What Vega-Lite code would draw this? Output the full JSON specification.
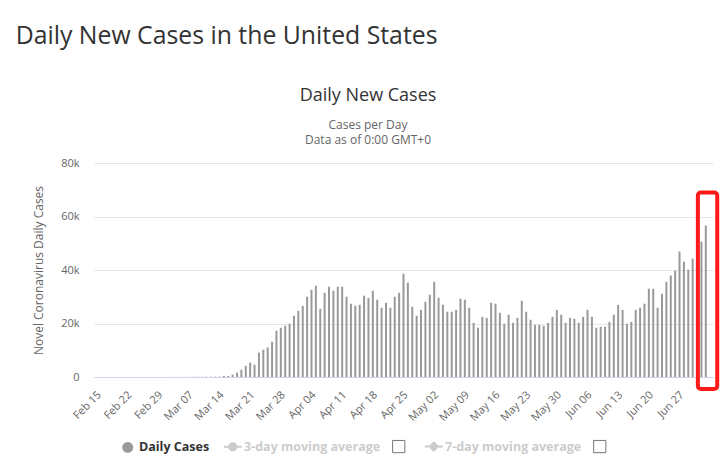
{
  "$schema": "https://vega.github.io/schema/vega-lite/v6.json",
  "background": "white",
  "padding": {"left": 15, "top": 24, "right": 5, "bottom": 5},
  "config": {"font": "Open Sans", "view": {"stroke": null}, "axis": {"labelOverlap": false}},
  "title": {"text": "Daily New Cases in the United States", "anchor": "start", "frame": "bounds", "fontSize": 24.8, "fontWeight": "normal", "color": "#333333", "font": "Open Sans", "dx": -17, "offset": 38},
  "datasets": {
    "cases": [
      {"date": "2020-02-15", "cases": 0, "series": "Daily Cases"},
      {"date": "2020-02-16", "cases": 0, "series": "Daily Cases"},
      {"date": "2020-02-17", "cases": 0, "series": "Daily Cases"},
      {"date": "2020-02-18", "cases": 0, "series": "Daily Cases"},
      {"date": "2020-02-19", "cases": 0, "series": "Daily Cases"},
      {"date": "2020-02-20", "cases": 0, "series": "Daily Cases"},
      {"date": "2020-02-21", "cases": 2, "series": "Daily Cases"},
      {"date": "2020-02-22", "cases": 0, "series": "Daily Cases"},
      {"date": "2020-02-23", "cases": 0, "series": "Daily Cases"},
      {"date": "2020-02-24", "cases": 0, "series": "Daily Cases"},
      {"date": "2020-02-25", "cases": 0, "series": "Daily Cases"},
      {"date": "2020-02-26", "cases": 1, "series": "Daily Cases"},
      {"date": "2020-02-27", "cases": 0, "series": "Daily Cases"},
      {"date": "2020-02-28", "cases": 1, "series": "Daily Cases"},
      {"date": "2020-02-29", "cases": 8, "series": "Daily Cases"},
      {"date": "2020-03-01", "cases": 7, "series": "Daily Cases"},
      {"date": "2020-03-02", "cases": 23, "series": "Daily Cases"},
      {"date": "2020-03-03", "cases": 20, "series": "Daily Cases"},
      {"date": "2020-03-04", "cases": 31, "series": "Daily Cases"},
      {"date": "2020-03-05", "cases": 68, "series": "Daily Cases"},
      {"date": "2020-03-06", "cases": 45, "series": "Daily Cases"},
      {"date": "2020-03-07", "cases": 90, "series": "Daily Cases"},
      {"date": "2020-03-08", "cases": 80, "series": "Daily Cases"},
      {"date": "2020-03-09", "cases": 65, "series": "Daily Cases"},
      {"date": "2020-03-10", "cases": 120, "series": "Daily Cases"},
      {"date": "2020-03-11", "cases": 110, "series": "Daily Cases"},
      {"date": "2020-03-12", "cases": 130, "series": "Daily Cases"},
      {"date": "2020-03-13", "cases": 150, "series": "Daily Cases"},
      {"date": "2020-03-14", "cases": 370, "series": "Daily Cases"},
      {"date": "2020-03-15", "cases": 370, "series": "Daily Cases"},
      {"date": "2020-03-16", "cases": 870, "series": "Daily Cases"},
      {"date": "2020-03-17", "cases": 1600, "series": "Daily Cases"},
      {"date": "2020-03-18", "cases": 2700, "series": "Daily Cases"},
      {"date": "2020-03-19", "cases": 4200, "series": "Daily Cases"},
      {"date": "2020-03-20", "cases": 5400, "series": "Daily Cases"},
      {"date": "2020-03-21", "cases": 4600, "series": "Daily Cases"},
      {"date": "2020-03-22", "cases": 9100, "series": "Daily Cases"},
      {"date": "2020-03-23", "cases": 10200, "series": "Daily Cases"},
      {"date": "2020-03-24", "cases": 11000, "series": "Daily Cases"},
      {"date": "2020-03-25", "cases": 13200, "series": "Daily Cases"},
      {"date": "2020-03-26", "cases": 17300, "series": "Daily Cases"},
      {"date": "2020-03-27", "cases": 18400, "series": "Daily Cases"},
      {"date": "2020-03-28", "cases": 19200, "series": "Daily Cases"},
      {"date": "2020-03-29", "cases": 19900, "series": "Daily Cases"},
      {"date": "2020-03-30", "cases": 22900, "series": "Daily Cases"},
      {"date": "2020-03-31", "cases": 24750, "series": "Daily Cases"},
      {"date": "2020-04-01", "cases": 26600, "series": "Daily Cases"},
      {"date": "2020-04-02", "cases": 30000, "series": "Daily Cases"},
      {"date": "2020-04-03", "cases": 32600, "series": "Daily Cases"},
      {"date": "2020-04-04", "cases": 34100, "series": "Daily Cases"},
      {"date": "2020-04-05", "cases": 25500, "series": "Daily Cases"},
      {"date": "2020-04-06", "cases": 31500, "series": "Daily Cases"},
      {"date": "2020-04-07", "cases": 33750, "series": "Daily Cases"},
      {"date": "2020-04-08", "cases": 32250, "series": "Daily Cases"},
      {"date": "2020-04-09", "cases": 33750, "series": "Daily Cases"},
      {"date": "2020-04-10", "cases": 33750, "series": "Daily Cases"},
      {"date": "2020-04-11", "cases": 30000, "series": "Daily Cases"},
      {"date": "2020-04-12", "cases": 27400, "series": "Daily Cases"},
      {"date": "2020-04-13", "cases": 26600, "series": "Daily Cases"},
      {"date": "2020-04-14", "cases": 27000, "series": "Daily Cases"},
      {"date": "2020-04-15", "cases": 30400, "series": "Daily Cases"},
      {"date": "2020-04-16", "cases": 29600, "series": "Daily Cases"},
      {"date": "2020-04-17", "cases": 32250, "series": "Daily Cases"},
      {"date": "2020-04-18", "cases": 28900, "series": "Daily Cases"},
      {"date": "2020-04-19", "cases": 25900, "series": "Daily Cases"},
      {"date": "2020-04-20", "cases": 27750, "series": "Daily Cases"},
      {"date": "2020-04-21", "cases": 25900, "series": "Daily Cases"},
      {"date": "2020-04-22", "cases": 30000, "series": "Daily Cases"},
      {"date": "2020-04-23", "cases": 31500, "series": "Daily Cases"},
      {"date": "2020-04-24", "cases": 38600, "series": "Daily Cases"},
      {"date": "2020-04-25", "cases": 35250, "series": "Daily Cases"},
      {"date": "2020-04-26", "cases": 26250, "series": "Daily Cases"},
      {"date": "2020-04-27", "cases": 22900, "series": "Daily Cases"},
      {"date": "2020-04-28", "cases": 25100, "series": "Daily Cases"},
      {"date": "2020-04-29", "cases": 28100, "series": "Daily Cases"},
      {"date": "2020-04-30", "cases": 30750, "series": "Daily Cases"},
      {"date": "2020-05-01", "cases": 35600, "series": "Daily Cases"},
      {"date": "2020-05-02", "cases": 29600, "series": "Daily Cases"},
      {"date": "2020-05-03", "cases": 27000, "series": "Daily Cases"},
      {"date": "2020-05-04", "cases": 24400, "series": "Daily Cases"},
      {"date": "2020-05-05", "cases": 24400, "series": "Daily Cases"},
      {"date": "2020-05-06", "cases": 25100, "series": "Daily Cases"},
      {"date": "2020-05-07", "cases": 29250, "series": "Daily Cases"},
      {"date": "2020-05-08", "cases": 28900, "series": "Daily Cases"},
      {"date": "2020-05-09", "cases": 25900, "series": "Daily Cases"},
      {"date": "2020-05-10", "cases": 20250, "series": "Daily Cases"},
      {"date": "2020-05-11", "cases": 18400, "series": "Daily Cases"},
      {"date": "2020-05-12", "cases": 22500, "series": "Daily Cases"},
      {"date": "2020-05-13", "cases": 22100, "series": "Daily Cases"},
      {"date": "2020-05-14", "cases": 27750, "series": "Daily Cases"},
      {"date": "2020-05-15", "cases": 27400, "series": "Daily Cases"},
      {"date": "2020-05-16", "cases": 24000, "series": "Daily Cases"},
      {"date": "2020-05-17", "cases": 19900, "series": "Daily Cases"},
      {"date": "2020-05-18", "cases": 23250, "series": "Daily Cases"},
      {"date": "2020-05-19", "cases": 20250, "series": "Daily Cases"},
      {"date": "2020-05-20", "cases": 22100, "series": "Daily Cases"},
      {"date": "2020-05-21", "cases": 28500, "series": "Daily Cases"},
      {"date": "2020-05-22", "cases": 24400, "series": "Daily Cases"},
      {"date": "2020-05-23", "cases": 21400, "series": "Daily Cases"},
      {"date": "2020-05-24", "cases": 19500, "series": "Daily Cases"},
      {"date": "2020-05-25", "cases": 19500, "series": "Daily Cases"},
      {"date": "2020-05-26", "cases": 19100, "series": "Daily Cases"},
      {"date": "2020-05-27", "cases": 20250, "series": "Daily Cases"},
      {"date": "2020-05-28", "cases": 22500, "series": "Daily Cases"},
      {"date": "2020-05-29", "cases": 25100, "series": "Daily Cases"},
      {"date": "2020-05-30", "cases": 23250, "series": "Daily Cases"},
      {"date": "2020-05-31", "cases": 20250, "series": "Daily Cases"},
      {"date": "2020-06-01", "cases": 22100, "series": "Daily Cases"},
      {"date": "2020-06-02", "cases": 21750, "series": "Daily Cases"},
      {"date": "2020-06-03", "cases": 20250, "series": "Daily Cases"},
      {"date": "2020-06-04", "cases": 22500, "series": "Daily Cases"},
      {"date": "2020-06-05", "cases": 25100, "series": "Daily Cases"},
      {"date": "2020-06-06", "cases": 22500, "series": "Daily Cases"},
      {"date": "2020-06-07", "cases": 18400, "series": "Daily Cases"},
      {"date": "2020-06-08", "cases": 18750, "series": "Daily Cases"},
      {"date": "2020-06-09", "cases": 18750, "series": "Daily Cases"},
      {"date": "2020-06-10", "cases": 20600, "series": "Daily Cases"},
      {"date": "2020-06-11", "cases": 23250, "series": "Daily Cases"},
      {"date": "2020-06-12", "cases": 27000, "series": "Daily Cases"},
      {"date": "2020-06-13", "cases": 25100, "series": "Daily Cases"},
      {"date": "2020-06-14", "cases": 19900, "series": "Daily Cases"},
      {"date": "2020-06-15", "cases": 20600, "series": "Daily Cases"},
      {"date": "2020-06-16", "cases": 25100, "series": "Daily Cases"},
      {"date": "2020-06-17", "cases": 25900, "series": "Daily Cases"},
      {"date": "2020-06-18", "cases": 27400, "series": "Daily Cases"},
      {"date": "2020-06-19", "cases": 33000, "series": "Daily Cases"},
      {"date": "2020-06-20", "cases": 33000, "series": "Daily Cases"},
      {"date": "2020-06-21", "cases": 25900, "series": "Daily Cases"},
      {"date": "2020-06-22", "cases": 31100, "series": "Daily Cases"},
      {"date": "2020-06-23", "cases": 35600, "series": "Daily Cases"},
      {"date": "2020-06-24", "cases": 37900, "series": "Daily Cases"},
      {"date": "2020-06-25", "cases": 39750, "series": "Daily Cases"},
      {"date": "2020-06-26", "cases": 46900, "series": "Daily Cases"},
      {"date": "2020-06-27", "cases": 43100, "series": "Daily Cases"},
      {"date": "2020-06-28", "cases": 40100, "series": "Daily Cases"},
      {"date": "2020-06-29", "cases": 44250, "series": "Daily Cases"},
      {"date": "2020-06-30", "cases": 47000, "series": "Daily Cases"},
      {"date": "2020-07-01", "cases": 50600, "series": "Daily Cases"},
      {"date": "2020-07-02", "cases": 56600, "series": "Daily Cases"}
    ],
    "highlight": [
      {"start": "2020-06-30T04:30:00Z", "end": "2020-07-04T14:30:00Z", "low": -4500, "high": 69000}
    ]
  },
  "vconcat": [
    {
      "width": 619,
      "height": 214,
      "title": {"text": "Daily New Cases", "subtitle": ["Cases per Day", "Data as of 0:00 GMT+0"], "fontSize": 18, "fontWeight": "normal", "color": "#333333", "font": "Open Sans", "subtitleFont": "Open Sans", "subtitleFontSize": 12, "subtitleColor": "#666666", "subtitlePadding": 15, "subtitleLineHeight": 15, "anchor": "middle", "frame": "group", "dx": -35.5, "offset": 11},
      "layer": [
        {
          "data": {"name": "cases"},
          "mark": {"type": "bar", "width": 2},
          "encoding": {
            "x": {"field": "date", "type": "temporal", "title": null,
              "scale": {"type": "utc", "domain": [{"year": 2020, "month": 2, "date": 14, "hours": 12, "utc": true}, {"year": 2020, "month": 7, "date": 2, "hours": 12, "utc": true}]},
              "axis": {"values": [
                {"year": 2020, "month": 2, "date": 15, "utc": true},
                {"year": 2020, "month": 2, "date": 22, "utc": true},
                {"year": 2020, "month": 2, "date": 29, "utc": true},
                {"year": 2020, "month": 3, "date": 7, "utc": true},
                {"year": 2020, "month": 3, "date": 14, "utc": true},
                {"year": 2020, "month": 3, "date": 21, "utc": true},
                {"year": 2020, "month": 3, "date": 28, "utc": true},
                {"year": 2020, "month": 4, "date": 4, "utc": true},
                {"year": 2020, "month": 4, "date": 11, "utc": true},
                {"year": 2020, "month": 4, "date": 18, "utc": true},
                {"year": 2020, "month": 4, "date": 25, "utc": true},
                {"year": 2020, "month": 5, "date": 2, "utc": true},
                {"year": 2020, "month": 5, "date": 9, "utc": true},
                {"year": 2020, "month": 5, "date": 16, "utc": true},
                {"year": 2020, "month": 5, "date": 23, "utc": true},
                {"year": 2020, "month": 5, "date": 30, "utc": true},
                {"year": 2020, "month": 6, "date": 6, "utc": true},
                {"year": 2020, "month": 6, "date": 13, "utc": true},
                {"year": 2020, "month": 6, "date": 20, "utc": true},
                {"year": 2020, "month": 6, "date": 27, "utc": true}
              ],
              "format": "%b %d", "labelAngle": -45, "labelAlign": "right", "labelBaseline": "middle", "labelOffset": -2, "ticks": false, "grid": false, "domainColor": "#ccd6eb", "labelColor": "#666666", "labelFontSize": 11, "labelFont": "Open Sans", "labelOverlap": false, "labelFlush": false, "labelBound": false, "labelPadding": 16}
            },
            "y": {"field": "cases", "type": "quantitative", "title": "Novel Coronavirus Daily Cases",
              "scale": {"domain": [0, 80000], "nice": false},
              "axis": {"values": [0, 20000, 40000, 60000, 80000], "labelExpr": "datum.value == 0 ? '0' : (datum.value / 1000) + 'k'", "domain": false, "ticks": false, "gridColor": "#e6e6e6", "labelColor": "#666666", "labelFontSize": 11, "labelFont": "Open Sans", "labelPadding": 15, "titleColor": "#666666", "titleFontSize": 12, "titleFontWeight": "normal", "titleFont": "Open Sans", "titlePadding": 15}
            },
            "color": {"field": "series", "type": "nominal",
              "scale": {"domain": ["Daily Cases", "3-day moving average", "cb3", "7-day moving average", "cb7"], "range": ["#999999", "#cccccc", "#ffffff", "#cccccc", "#ffffff"]},
              "legend": {"orient": "none", "legendX": 27.5, "legendY": 277, "direction": "horizontal", "columns": 5, "title": null,
                "labelExpr": "datum.value == 'cb3' || datum.value == 'cb7' ? '' : datum.label",
                "labelFontSize": 12.5, "labelFontWeight": "bold", "labelFont": "Open Sans",
                "symbolSize": 144, "labelOffset": 5, "columnPadding": 10,
                "encode": {
                  "symbols": {"update": {
                    "shape": {"signal": "datum.value == 'Daily Cases' ? 'circle' : datum.value == '3-day moving average' ? 'M-1,0L1,0M0.4,0A0.4,0.4,0,1,1,-0.4,0A0.4,0.4,0,1,1,0.4,0Z' : datum.value == '7-day moving average' ? 'M-1,0L1,0M0,-0.45L0.45,0L0,0.45L-0.45,0Z' : 'square'"},
                    "size": {"signal": "datum.value == 'Daily Cases' ? 120 : (datum.value == 'cb3' || datum.value == 'cb7') ? 150 : 324"},
                    "fill": {"signal": "datum.value == 'Daily Cases' ? '#999999' : (datum.value == 'cb3' || datum.value == 'cb7') ? '#ffffff' : '#cccccc'"},
                    "stroke": {"signal": "datum.value == 'Daily Cases' ? '#999999' : (datum.value == 'cb3' || datum.value == 'cb7') ? '#767676' : '#cccccc'"},
                    "strokeWidth": {"signal": "datum.value == 'Daily Cases' ? 0 : (datum.value == 'cb3' || datum.value == 'cb7') ? 1 : 2"},
                    "opacity": {"value": 1}
                  }},
                  "labels": {"update": {"fill": {"signal": "datum.value == 'Daily Cases' ? '#333333' : '#cccccc'"}}}
                }
              }
            }
          }
        },
        {
          "data": {"name": "highlight"},
          "mark": {"type": "rect", "fill": null, "stroke": "#ff1a1a", "strokeWidth": 4, "cornerRadius": 3},
          "encoding": {
            "x": {"field": "start", "type": "temporal", "title": null,
              "scale": {"type": "utc", "domain": [{"year": 2020, "month": 2, "date": 14, "hours": 12, "utc": true}, {"year": 2020, "month": 7, "date": 2, "hours": 12, "utc": true}]},
              "axis": {"values": [
                {"year": 2020, "month": 2, "date": 15, "utc": true},
                {"year": 2020, "month": 2, "date": 22, "utc": true},
                {"year": 2020, "month": 2, "date": 29, "utc": true},
                {"year": 2020, "month": 3, "date": 7, "utc": true},
                {"year": 2020, "month": 3, "date": 14, "utc": true},
                {"year": 2020, "month": 3, "date": 21, "utc": true},
                {"year": 2020, "month": 3, "date": 28, "utc": true},
                {"year": 2020, "month": 4, "date": 4, "utc": true},
                {"year": 2020, "month": 4, "date": 11, "utc": true},
                {"year": 2020, "month": 4, "date": 18, "utc": true},
                {"year": 2020, "month": 4, "date": 25, "utc": true},
                {"year": 2020, "month": 5, "date": 2, "utc": true},
                {"year": 2020, "month": 5, "date": 9, "utc": true},
                {"year": 2020, "month": 5, "date": 16, "utc": true},
                {"year": 2020, "month": 5, "date": 23, "utc": true},
                {"year": 2020, "month": 5, "date": 30, "utc": true},
                {"year": 2020, "month": 6, "date": 6, "utc": true},
                {"year": 2020, "month": 6, "date": 13, "utc": true},
                {"year": 2020, "month": 6, "date": 20, "utc": true},
                {"year": 2020, "month": 6, "date": 27, "utc": true}
              ],
              "format": "%b %d", "labelAngle": -45, "labelAlign": "right", "labelBaseline": "middle", "labelOffset": -2, "ticks": false, "grid": false, "domainColor": "#ccd6eb", "labelColor": "#666666", "labelFontSize": 11, "labelFont": "Open Sans", "labelOverlap": false, "labelFlush": false, "labelBound": false, "labelPadding": 16}
            },
            "x2": {"field": "end"},
            "y": {"field": "low", "type": "quantitative", "title": "Novel Coronavirus Daily Cases",
              "scale": {"domain": [0, 80000], "nice": false},
              "axis": {"values": [0, 20000, 40000, 60000, 80000], "labelExpr": "datum.value == 0 ? '0' : (datum.value / 1000) + 'k'", "domain": false, "ticks": false, "gridColor": "#e6e6e6", "labelColor": "#666666", "labelFontSize": 11, "labelFont": "Open Sans", "labelPadding": 15, "titleColor": "#666666", "titleFontSize": 12, "titleFontWeight": "normal", "titleFont": "Open Sans", "titlePadding": 15}
            },
            "y2": {"field": "high"}
          }
        }
      ]
    }
  ]
}
